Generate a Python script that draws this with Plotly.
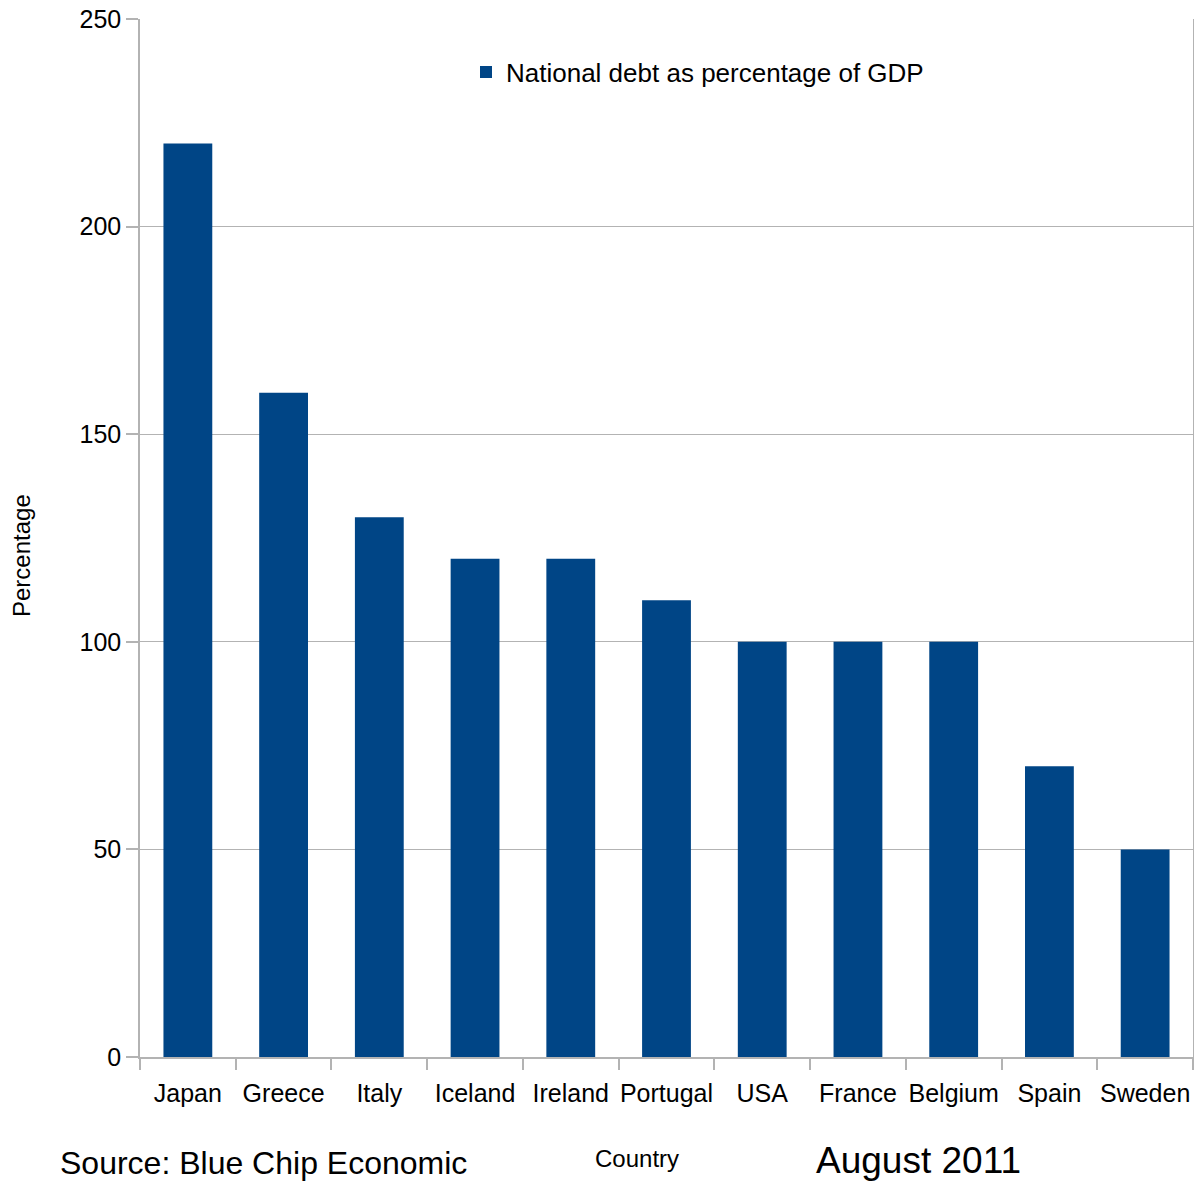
import plotly.graph_objects as go

countries = ["Japan", "Greece", "Italy", "Iceland", "Ireland", "Portugal",
             "USA", "France", "Belgium", "Spain", "Sweden"]
debt_pct = [220, 160, 130, 120, 120, 110, 100, 100, 100, 70, 50]
series_name = "National debt as percentage of GDP"
y_ticks = [0, 50, 100, 150, 200, 250]

FONT = "Liberation Sans, Arial, sans-serif"
GRAY = "#b3b3b3"

fig = go.Figure()
fig.add_trace(go.Bar(
    x=countries, y=debt_pct, name=series_name,
    marker=dict(color="#004586", line=dict(width=0)),
    showlegend=True,
))

W, H = 1194, 1181
L, R, T, B = 140, 1, 19, 124
ph = H - T - B
pw = W - L - R

def py(pix):
    return (H - B - pix) / ph

def px(pix):
    return (pix - L) / pw

fig.update_layout(
    width=W, height=H,
    margin=dict(l=L, r=R, t=T, b=B, pad=0, autoexpand=False),
    paper_bgcolor="white", plot_bgcolor="white",
    font=dict(family=FONT, color="black", size=25),
    bargap=0.49,
    showlegend=True,
    legend=dict(x=px(466), y=py(72), xanchor="left", yanchor="middle",
                font=dict(size=26, family=FONT), bgcolor="rgba(0,0,0,0)",
                itemwidth=30, traceorder="normal"),
    xaxis=dict(
        type="category", showgrid=False, showline=True, linecolor=GRAY, linewidth=1.5,
        ticks="outside", tickson="boundaries", ticklen=11, tickcolor=GRAY, tickwidth=1.5,
        tickfont=dict(size=25, family=FONT, color="black"), tickangle=0, automargin=False,
        ticklabelstandoff=13,
    ),
    yaxis=dict(
        range=[0, 250], tickvals=y_ticks, showgrid=True, gridcolor=GRAY, gridwidth=1,
        showline=True, linecolor=GRAY, linewidth=1.5, mirror=True,
        ticks="outside", ticklen=12, tickcolor=GRAY, tickwidth=1.5,
        tickfont=dict(size=25, family=FONT, color="black"), zeroline=False, automargin=False,
    ),
    annotations=[
        dict(text="Percentage", xref="paper", yref="paper", x=px(22), y=py(556),
             textangle=-90, showarrow=False, font=dict(size=24, family=FONT),
             xanchor="center", yanchor="middle"),
        dict(text="Country", xref="paper", yref="paper", x=px(637), y=py(1158),
             showarrow=False, font=dict(size=24, family=FONT), xanchor="center", yanchor="middle"),
        dict(text="Source: Blue Chip Economic", xref="paper", yref="paper",
             x=px(58), y=py(1163), showarrow=False,
             font=dict(size=32, family=FONT), xanchor="left", yanchor="middle"),
        dict(text="August 2011", xref="paper", yref="paper",
             x=px(918), y=py(1160), showarrow=False,
             font=dict(size=37, family=FONT), xanchor="center", yanchor="middle"),
    ],
)

fig.write_html("out.html")
